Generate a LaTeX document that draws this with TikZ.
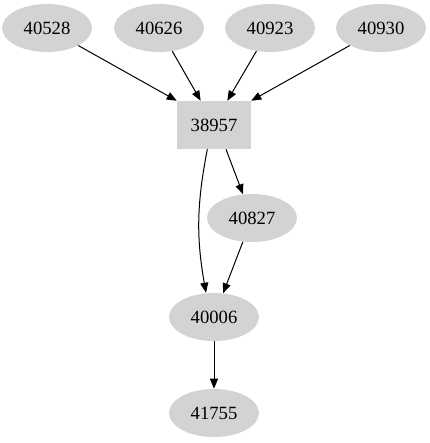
\documentclass[tikz,border=0pt]{standalone}
\usepackage{fontspec}
\setmainfont{Liberation Serif}
\usepackage{xcolor}
\usetikzlibrary{arrows.meta,shapes.geometric}
\definecolor{xgrey}{RGB}{211,211,211}

\begin{document}
\begin{tikzpicture}[
  x=0.75pt, y=-0.75pt,
  oval/.style={ellipse, fill=xgrey, minimum width=67.5pt, minimum height=36pt,
               inner sep=0pt, font=\fontsize{14pt}{16pt}\selectfont},
  box/.style={rectangle, fill=xgrey, minimum width=55.5pt, minimum height=36pt,
              inner sep=0pt, font=\fontsize{14pt}{16pt}\selectfont},
  arr/.style={-{Triangle[length=7.5pt,width=6pt]}, line width=0.75pt, black}
]
  \useasboundingbox (0,0) rectangle (429,443);

  % top row
  \node[oval] (n40528) at (47,28)  {40528};
  \node[oval] (n40626) at (159,28) {40626};
  \node[oval] (n40923) at (270,28) {40923};
  \node[oval] (n40930) at (381,28) {40930};

  % middle
  \node[box]  (n38957) at (214,125) {38957};
  \node[oval] (n40827) at (252,218) {40827};
  \node[oval] (n40006) at (214,317) {40006};
  \node[oval] (n41755) at (214,413) {41755};

  \draw[arr] (n40528) -- (n38957.north west);
  \draw[arr] (n40626) -- ([xshift=-10pt]n38957.north);
  \draw[arr] (n40923) -- ([xshift=10pt]n38957.north);
  \draw[arr] (n40930) -- (n38957.north east);
  \draw[arr] ([xshift=9pt]n38957.south) -- (n40827);
  \draw[arr] ([xshift=-5pt]n38957.south) to[out=-101,in=100] ([xshift=-6pt]n40006.north);
  \draw[arr] (n40827) -- (n40006);
  \draw[arr] (n40006) -- (n41755);
\end{tikzpicture}
\end{document}
